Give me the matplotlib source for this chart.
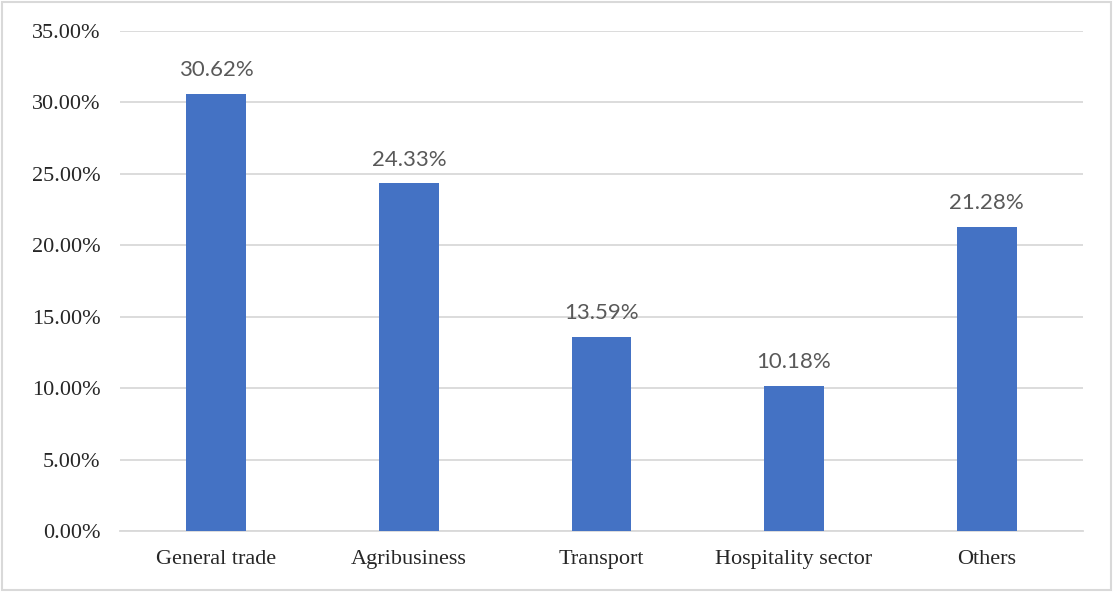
import matplotlib
matplotlib.use("Agg")
import matplotlib.pyplot as plt
from matplotlib.patches import Rectangle
from matplotlib.ticker import FuncFormatter, MultipleLocator

sectors = ["General trade", "Agribusiness", "Transport", "Hospitality sector", "Others"]
shares = [30.62, 24.33, 13.59, 10.18, 21.28]

fig = plt.figure(figsize=(11.13, 5.92), dpi=100)
ax = fig.add_axes([0.1078, 0.103, 0.8652, 0.8446])

x = range(len(sectors))
ax.bar(x, shares, width=0.31, color="#4472C4", zorder=3)

for i, v in zip(x, shares):
    ax.annotate(f"{v:.2f}%", (i, v), xytext=(0, 10), textcoords="offset points",
                ha="center", va="bottom", fontsize=16, color="#595959",
                family="Lato")

ax.set_xlim(-0.5, len(sectors) - 0.5)
ax.set_ylim(0, 35)
ax.yaxis.set_major_locator(MultipleLocator(5))
ax.yaxis.set_major_formatter(FuncFormatter(lambda v, p: f"{v:.2f}%"))
ax.grid(axis="y", color="#D9D9D9", linewidth=1.3, zorder=0)
ax.set_xticks(list(x))
ax.set_xticklabels(sectors)

for side in ["top", "right", "left"]:
    ax.spines[side].set_visible(False)
ax.spines["bottom"].set_color("#D9D9D9")
ax.spines["bottom"].set_linewidth(1.3)
ax.tick_params(length=0)
ax.tick_params(axis="y", pad=14)
ax.tick_params(axis="x", pad=14)
for lab in ax.get_xticklabels() + ax.get_yticklabels():
    lab.set_fontfamily("Liberation Serif")
    lab.set_fontsize(16)
    lab.set_color("#262626")

# thin frame round the whole figure
fig.patches.append(Rectangle((0.002, 0.003), 0.996, 0.994, transform=fig.transFigure,
                             fill=False, edgecolor="#D9D9D9", linewidth=1.5))

fig.savefig("out.png", dpi=100)
